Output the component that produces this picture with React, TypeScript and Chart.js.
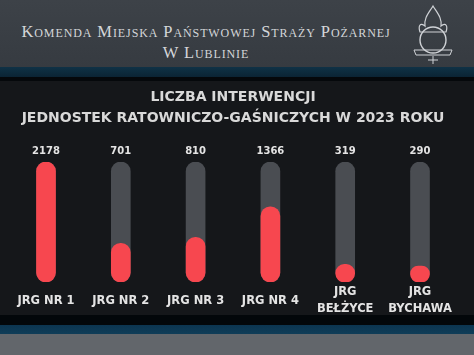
import React, { useEffect, useRef } from "react";
import { Chart, registerables } from "chart.js";

Chart.register(...registerables);

const categories: string[][] = [
  ["JRG NR 1"],
  ["JRG NR 2"],
  ["JRG NR 3"],
  ["JRG NR 4"],
  ["JRG", "BEŁŻYCE"],
  ["JRG", "BYCHAWA"],
];
const values = [2178, 701, 810, 1366, 319, 290];
const titleLines = ["LICZBA INTERWENCJI", "JEDNOSTEK RATOWNICZO-GAŚNICZYCH W 2023 ROKU"];
const headerLines = ["Komenda Miejska Państwowej Straży Pożarnej", "W Lublinie"];

const maxVal = Math.max(...values);

const labelPlugin = {
  id: "barLabels",
  afterDatasetsDraw(chart: any) {
    const ctx = chart.ctx;
    const xs = chart.scales.x;
    const ys = chart.scales.y;
    ctx.save();
    ctx.fillStyle = "#e4e4e4";
    ctx.textAlign = "center";
    ctx.textBaseline = "middle";
    ctx.font = "bold 10px 'DejaVu Sans'";
    values.forEach((v, i) => {
      const px = xs.getPixelForValue(i);
      ctx.fillText(String(v), px, ys.getPixelForValue(maxVal) - 11);
    });
    ctx.font = "bold 11.5px 'DejaVu Sans'";
    categories.forEach((lines, i) => {
      const px = xs.getPixelForValue(i);
      const cy = chart.chartArea.bottom + 19;
      const lh = 17;
      lines.forEach((l, j) => {
        ctx.fillText(l, px, cy + (j - (lines.length - 1) / 2) * lh);
      });
    });
    ctx.restore();
  },
};

function ChartPanel() {
  const ref = useRef<HTMLCanvasElement | null>(null);
  useEffect(() => {
    if (!ref.current) return;
    const chart = new Chart(ref.current, {
      type: "bar",
      data: {
        labels: categories.map((c) => c.join(" ")),
        datasets: [
          {
            data: values,
            backgroundColor: "#f7474f",
            barThickness: 19,
            borderRadius: 10,
            borderSkipped: false,
            grouped: false,
          } as any,
          {
            data: values.map(() => maxVal),
            backgroundColor: "#4a4d52",
            barThickness: 19,
            borderRadius: 10,
            borderSkipped: false,
            grouped: false,
          } as any,
        ],
      },
      options: {
        animation: false,
        responsive: true,
        maintainAspectRatio: false,
        layout: { padding: { left: 8.6, right: 16.6, top: 0, bottom: 46 } },
        plugins: {
          legend: { display: false },
          tooltip: { enabled: false },
          title: {
            display: true,
            text: titleLines,
            color: "#d9d9d9",
            font: { family: "'DejaVu Sans'", size: 14, weight: "bold", lineHeight: "21px" } as any,
            padding: { top: 9, bottom: 33 },
          },
        },
        scales: {
          x: { display: false },
          y: { display: false, min: 0, max: maxVal },
        },
      },
      plugins: [labelPlugin],
    });
    return () => chart.destroy();
  }, []);
  return (
    <div style={{ position: "absolute", left: 0, top: 78, width: 474, height: 250 }}>
      <canvas ref={ref} />
    </div>
  );
}

export default function App() {
  return (
    <div
      style={{
        position: "fixed",
        left: 0,
        top: 0,
        width: 474,
        height: 355,
        overflow: "hidden",
        background: "#15171a",
      }}
    >
      <div
        style={{
          position: "absolute",
          left: 0,
          top: 0,
          width: 474,
          height: 67,
          background: "linear-gradient(180deg, #3d4248 0%, #363b41 100%)",
        }}
      />
      <div
        style={{
          position: "absolute",
          left: 0,
          top: 21,
          width: 412,
          textAlign: "center",
          fontFamily: "'Liberation Serif', serif",
          fontVariant: "small-caps",
          fontSize: 16.5,
          lineHeight: "21px",
          letterSpacing: 0.9,
          color: "#d4d6d9",
        }}
      >
        <div>{headerLines[0]}</div>
        <div>{headerLines[1]}</div>
      </div>
      <svg
        style={{ position: "absolute", left: 408, top: 4 }}
        width={50}
        height={62}
        viewBox="0 0 50 62"
      >
        <path d="M25 2 C20 10 16 14 17 22 C12 18 10 22 12 28 L38 28 C40 22 38 18 33 22 C34 14 30 10 25 2 Z" fill="none" stroke="#cfd2d6" strokeWidth="1.2" />
        <circle cx="25" cy="36" r="13" fill="none" stroke="#cfd2d6" strokeWidth="1.4" />
        <path d="M6 46 L44 46 L42 51 L8 51 Z" fill="none" stroke="#cfd2d6" strokeWidth="1" />
        <path d="M25 52 L25 60 M20 56 L30 56" stroke="#cfd2d6" strokeWidth="1" />
      </svg>
      <div
        style={{
          position: "absolute",
          left: 0,
          top: 67,
          width: 474,
          height: 10,
          background: "linear-gradient(180deg, #0f3246 0%, #0b2434 100%)",
        }}
      />
      <div style={{ position: "absolute", left: 0, top: 77, width: 474, height: 4, background: "#05080b" }} />
      <div style={{ position: "absolute", left: 0, top: 315, width: 474, height: 10, background: "#03070a" }} />
      <div
        style={{
          position: "absolute",
          left: 0,
          top: 325,
          width: 474,
          height: 9,
          background: "linear-gradient(180deg, #0c3550 0%, #0f3d58 100%)",
        }}
      />
      <div
        style={{
          position: "absolute",
          left: 0,
          top: 334,
          width: 474,
          height: 21,
          background: "#62666b",
        }}
      />
      <ChartPanel />
    </div>
  );
}
